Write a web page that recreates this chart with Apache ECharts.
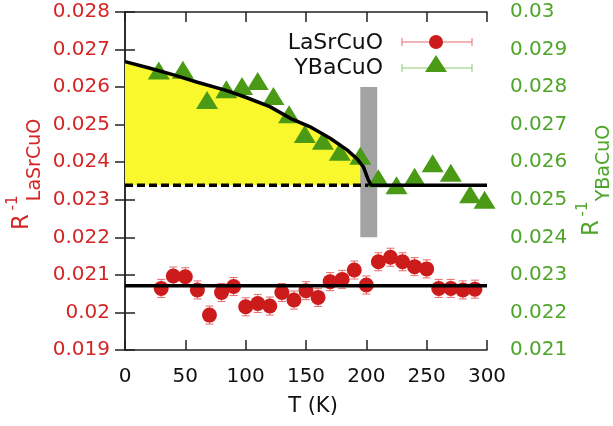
<!DOCTYPE html>
<html>
<head>
<meta charset="utf-8">
<script src="https://cdn.jsdelivr.net/npm/echarts@6/dist/echarts.min.js"></script>
<style>
  html, body { margin: 0; padding: 0; background: #fff; }
  #chart { width: 613px; height: 426px; }
</style>
</head>
<body>
<div id="chart"></div>
<script>
// LaSrCuO (left axis)
const lsT = [30, 40, 50, 60, 70, 80, 90, 100, 110, 120, 130, 140, 150, 160, 170, 180, 190, 200, 210, 220, 230, 240, 250, 260, 270, 280, 290];
const lsR = [0.02064, 0.02097, 0.02095, 0.02060, 0.01993, 0.02053, 0.02069, 0.02015, 0.02024, 0.02017, 0.02053, 0.02033, 0.02058, 0.02040, 0.02082, 0.02088, 0.02113, 0.02073, 0.02135, 0.02147, 0.02135, 0.02122, 0.02116, 0.02064, 0.02064, 0.02060, 0.02062];
const lsErr = [0.00024, 0.00024, 0.00024, 0.00024, 0.00024, 0.00024, 0.00024, 0.00024, 0.00024, 0.00024, 0.00024, 0.00024, 0.00024, 0.00024, 0.00024, 0.00024, 0.00024, 0.00024, 0.00024, 0.00024, 0.00024, 0.00024, 0.00024, 0.00024, 0.00024, 0.00024, 0.00024];
const lsLevel = 0.02071;

// YBaCuO (right axis)
const ybT = [28, 48, 68, 84, 97, 110, 123, 136, 149, 164, 178, 195, 210, 225, 240, 255, 270, 286, 298];
const ybR = [0.02844, 0.02846, 0.02766, 0.02794, 0.02803, 0.02816, 0.02776, 0.02728, 0.02675, 0.02657, 0.02628, 0.02617, 0.02557, 0.02539, 0.02561, 0.02597, 0.02572, 0.02515, 0.02500];

// fitted curve (read on the left axis)
const fitT = [0, 20, 41, 60, 83, 100, 120, 137, 153, 170, 184, 192, 197.5, 201.6, 204, 300];
const fitR = [0.02668, 0.02651, 0.02632, 0.02613, 0.02592, 0.02573, 0.02548, 0.02517, 0.02495, 0.02464, 0.02433, 0.02410, 0.02388, 0.02353, 0.02339, 0.02339];
const fitBase = 0.02339;
const fitBaseEnd = 204;

// grey Tc band
const bandT = [195, 209];
const bandR = [0.022, 0.026];

const red = '#cc1b1b';
const redLight = '#e66a6a';
const green = '#4a9a16';
const greenLight = '#8cc773';
const redText = '#d42626';
const greenText = '#4fa52a';
const font = 'DejaVu Sans, sans-serif';

const chart = echarts.init(document.getElementById('chart'));

function fmt(v) { return String(Math.round(v * 1000) / 1000); }

function errRender(params, api) {
  const x = api.value(0), y = api.value(1), e = api.value(2);
  const top = api.coord([x, y + e]);
  const bot = api.coord([x, y - e]);
  const st = { stroke: redLight, lineWidth: 1 };
  return {
    type: 'group',
    children: [
      { type: 'line', shape: { x1: top[0], y1: top[1], x2: bot[0], y2: bot[1] }, style: st },
      { type: 'line', shape: { x1: top[0] - 4, y1: top[1], x2: top[0] + 4, y2: top[1] }, style: st },
      { type: 'line', shape: { x1: bot[0] - 4, y1: bot[1], x2: bot[0] + 4, y2: bot[1] }, style: st }
    ]
  };
}

function bandRender(params, api) {
  const p1 = api.coord([api.value(0), api.value(3)]);
  const p2 = api.coord([api.value(1), api.value(2)]);
  return {
    type: 'rect',
    shape: { x: p1[0], y: p1[1], width: p2[0] - p1[0], height: p2[1] - p1[1] },
    style: { fill: '#a3a3a3' }
  };
}

const axisLine = { show: true, lineStyle: { color: '#222', width: 1.5 } };
const tick = { show: true, inside: true, length: 10, lineStyle: { color: '#222', width: 1.5 } };

function title(x, y, text, size, color) {
  return {
    type: 'text', x: x, y: y, rotation: Math.PI / 2,
    style: { text: text, fill: color, font: size + 'px ' + font, align: 'center', verticalAlign: 'middle' }
  };
}

const option = {
  animation: false,
  grid: { left: 125, right: 126, top: 12, bottom: 76 },
  xAxis: [
    {
      type: 'value', min: 0, max: 300, interval: 50,
      axisLine: axisLine, axisTick: tick, splitLine: { show: false },
      axisLabel: { color: '#111', fontSize: 20, fontFamily: font, margin: 17 },
      name: 'T (K)', nameLocation: 'middle', nameGap: 46,
      nameTextStyle: { color: '#111', fontSize: 21, fontFamily: font, padding: [0, 0, 0, 14] }
    },
    {
      type: 'value', min: 0, max: 300, interval: 50, position: 'top',
      axisLine: axisLine, axisTick: tick, splitLine: { show: false },
      axisLabel: { show: false }
    }
  ],
  yAxis: [
    {
      type: 'value', min: 0.019, max: 0.028, interval: 0.001,
      axisLine: axisLine, axisTick: tick, splitLine: { show: false },
      axisLabel: { color: redText, fontSize: 20, fontFamily: font, margin: 15, formatter: fmt }
    },
    {
      type: 'value', min: 0.021, max: 0.03, interval: 0.001, position: 'right',
      axisLine: axisLine, axisTick: tick, splitLine: { show: false },
      axisLabel: { color: greenText, fontSize: 20, fontFamily: font, margin: 23, formatter: fmt }
    }
  ],
  graphic: [
    // axis titles
    title(22, 222, 'R', 23, redText),
    title(13, 203, '-1', 15, redText),
    title(35, 160, 'LaSrCuO', 19, redText),
    title(592, 228, 'R', 23, greenText),
    title(583, 209, '-1', 15, greenText),
    title(604, 163, 'YBaCuO', 19, greenText),
    // legend
    { type: 'text', x: 383, y: 43, style: { text: 'LaSrCuO', fill: '#111', font: '22px ' + font, align: 'right', verticalAlign: 'middle' } },
    { type: 'text', x: 383, y: 68, style: { text: 'YBaCuO', fill: '#111', font: '22px ' + font, align: 'right', verticalAlign: 'middle' } },
    { type: 'line', shape: { x1: 402, y1: 42, x2: 472, y2: 42 }, style: { stroke: redLight, lineWidth: 1 } },
    { type: 'line', shape: { x1: 402, y1: 38, x2: 402, y2: 46 }, style: { stroke: redLight, lineWidth: 1 } },
    { type: 'line', shape: { x1: 472, y1: 38, x2: 472, y2: 46 }, style: { stroke: redLight, lineWidth: 1 } },
    { type: 'circle', shape: { cx: 436, cy: 42, r: 7 }, style: { fill: red } },
    { type: 'line', shape: { x1: 402, y1: 68, x2: 472, y2: 68 }, style: { stroke: greenLight, lineWidth: 1 } },
    { type: 'line', shape: { x1: 402, y1: 64, x2: 402, y2: 72 }, style: { stroke: greenLight, lineWidth: 1 } },
    { type: 'line', shape: { x1: 472, y1: 64, x2: 472, y2: 72 }, style: { stroke: greenLight, lineWidth: 1 } },
    { type: 'polygon', shape: { points: [[436, 55], [447, 72], [425, 72]] }, style: { fill: green } }
  ],
  series: [
    {
      type: 'line', z: 1, silent: true,
      data: fitT.map((t, i) => [t, fitR[i]]),
      showSymbol: false,
      lineStyle: { width: 0 },
      areaStyle: { color: '#f8f82c', opacity: 1, origin: fitBase }
    },
    {
      type: 'custom', z: 2, silent: true,
      renderItem: bandRender,
      data: [[bandT[0], bandT[1], bandR[0], bandR[1]]]
    },
    {
      type: 'line', z: 3, silent: true,
      data: [[0, fitBase], [fitBaseEnd, fitBase]],
      showSymbol: false,
      lineStyle: { color: '#000', width: 3.5, type: [8, 4] }
    },
    {
      type: 'custom', z: 4, silent: true,
      renderItem: errRender,
      data: lsT.map((t, i) => [t, lsR[i], lsErr[i]])
    },
    {
      type: 'scatter', z: 5,
      data: lsT.map((t, i) => [t, lsR[i]]),
      symbol: 'circle', symbolSize: 15,
      itemStyle: { color: red, opacity: 1 }
    },
    {
      type: 'scatter', z: 5, yAxisIndex: 1,
      data: ybT.map((t, i) => [t, ybR[i]]),
      symbol: 'triangle', symbolSize: [22, 18],
      itemStyle: { color: green, opacity: 1 }
    },
    {
      type: 'line', z: 6, silent: true,
      data: [[0, lsLevel], [300, lsLevel]],
      showSymbol: false,
      lineStyle: { color: '#000', width: 3.5 }
    },
    {
      type: 'line', z: 6, silent: true,
      data: fitT.map((t, i) => [t, fitR[i]]),
      showSymbol: false,
      lineStyle: { color: '#000', width: 3.5 }
    }
  ]
};

chart.setOption(option);
</script>
</body>
</html>
